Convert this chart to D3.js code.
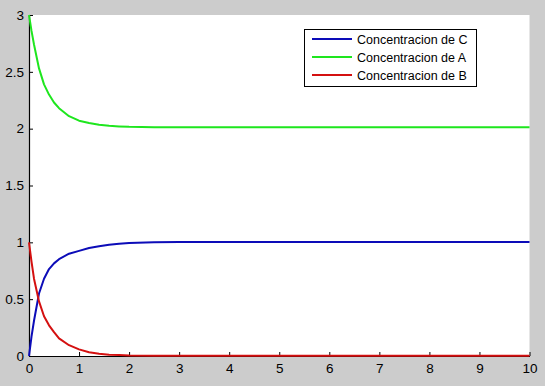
<!DOCTYPE html>
<html><head><meta charset="utf-8">
<script src="https://cdn.jsdelivr.net/npm/d3@7"></script>
<style>body{margin:0;background:#cccccc;}svg{display:block;}</style>
</head><body>
<svg id="chart" width="545" height="386"></svg>
<script>
const time  = [0,0.05,0.1,0.2,0.3,0.4,0.5,0.6,0.8,1.0,1.2,1.4,1.6,1.8,2.0,2.5,3,4,5,6,7,8,9,10];
const concB = [1.0,0.83,0.68,0.48,0.35,0.27,0.21,0.155,0.095,0.058,0.033,0.02,0.012,0.008,0.005,0.003,0.002,0.002,0.002,0.002,0.002,0.002,0.002,0.002];
const concA = [3.0,2.86,2.74,2.53,2.39,2.30,2.23,2.18,2.11,2.07,2.05,2.035,2.025,2.02,2.016,2.013,2.012,2.012,2.012,2.012,2.012,2.012,2.012,2.012];
const concC = [0,0.17,0.31,0.55,0.68,0.765,0.815,0.852,0.90,0.925,0.95,0.966,0.978,0.988,0.995,1.0,1.002,1.002,1.002,1.002,1.002,1.002,1.002,1.002];
const seriesNames = ["Concentracion de C","Concentracion de A","Concentracion de B"];
const seriesColors = ["#0c0cb8","#1ee61e","#d41010"];
const xTicks = [0,1,2,3,4,5,6,7,8,9,10];
const yTicks = [0,0.5,1,1.5,2,2.5,3];

const svg = d3.select("#chart");
const L=29, R=529.5, T=15, B=356;
const x = d3.scaleLinear().domain([0,10]).range([L,R]);
const y = d3.scaleLinear().domain([0,3]).range([B,T]);

svg.append("rect").attr("x",L).attr("y",T).attr("width",R-L).attr("height",B-T).attr("fill","#fff");

const font = "'Liberation Sans', Arial, sans-serif";
const xa = svg.append("g").attr("transform",`translate(0,${B})`)
  .call(d3.axisBottom(x).tickValues(xTicks).tickFormat(d3.format("d")).tickSize(-4).tickPadding(7).tickSizeOuter(0));
const ya = svg.append("g").attr("transform",`translate(${L},0)`)
  .call(d3.axisLeft(y).tickValues(yTicks).tickFormat(d=>String(d)).tickSize(-4).tickPadding(5).tickSizeOuter(0));
[xa,ya].forEach(a=>{
  a.selectAll("path").attr("stroke","#000").attr("stroke-width",1.2);
  a.selectAll("line").attr("stroke","#000");
  a.selectAll("text").attr("fill","#000").style("font-family",font).style("font-size","13.5px");
});

const series = [concC, concA, concB];
const line = d3.line().x((d,i)=>x(time[i])).y(d=>y(d));
series.forEach((s,k)=>{
  svg.append("path").datum(s).attr("d",line).attr("fill","none")
    .attr("stroke",seriesColors[k]).attr("stroke-width",2).attr("stroke-linejoin","round");
});

const lg = svg.append("g");
lg.append("rect").attr("x",304.5).attr("y",29.5).attr("width",172).attr("height",57)
  .attr("fill","#fff").attr("stroke","#000").attr("stroke-width",1);
seriesNames.forEach((n,k)=>{
  const yy = 39 + k*18;
  lg.append("line").attr("x1",312).attr("x2",352).attr("y1",yy).attr("y2",yy)
    .attr("stroke",seriesColors[k]).attr("stroke-width",2);
  lg.append("text").attr("x",357).attr("y",yy+4.5).text(n)
    .style("font-family",font).style("font-size","12.5px").attr("fill","#000");
});
</script>
</body></html>
